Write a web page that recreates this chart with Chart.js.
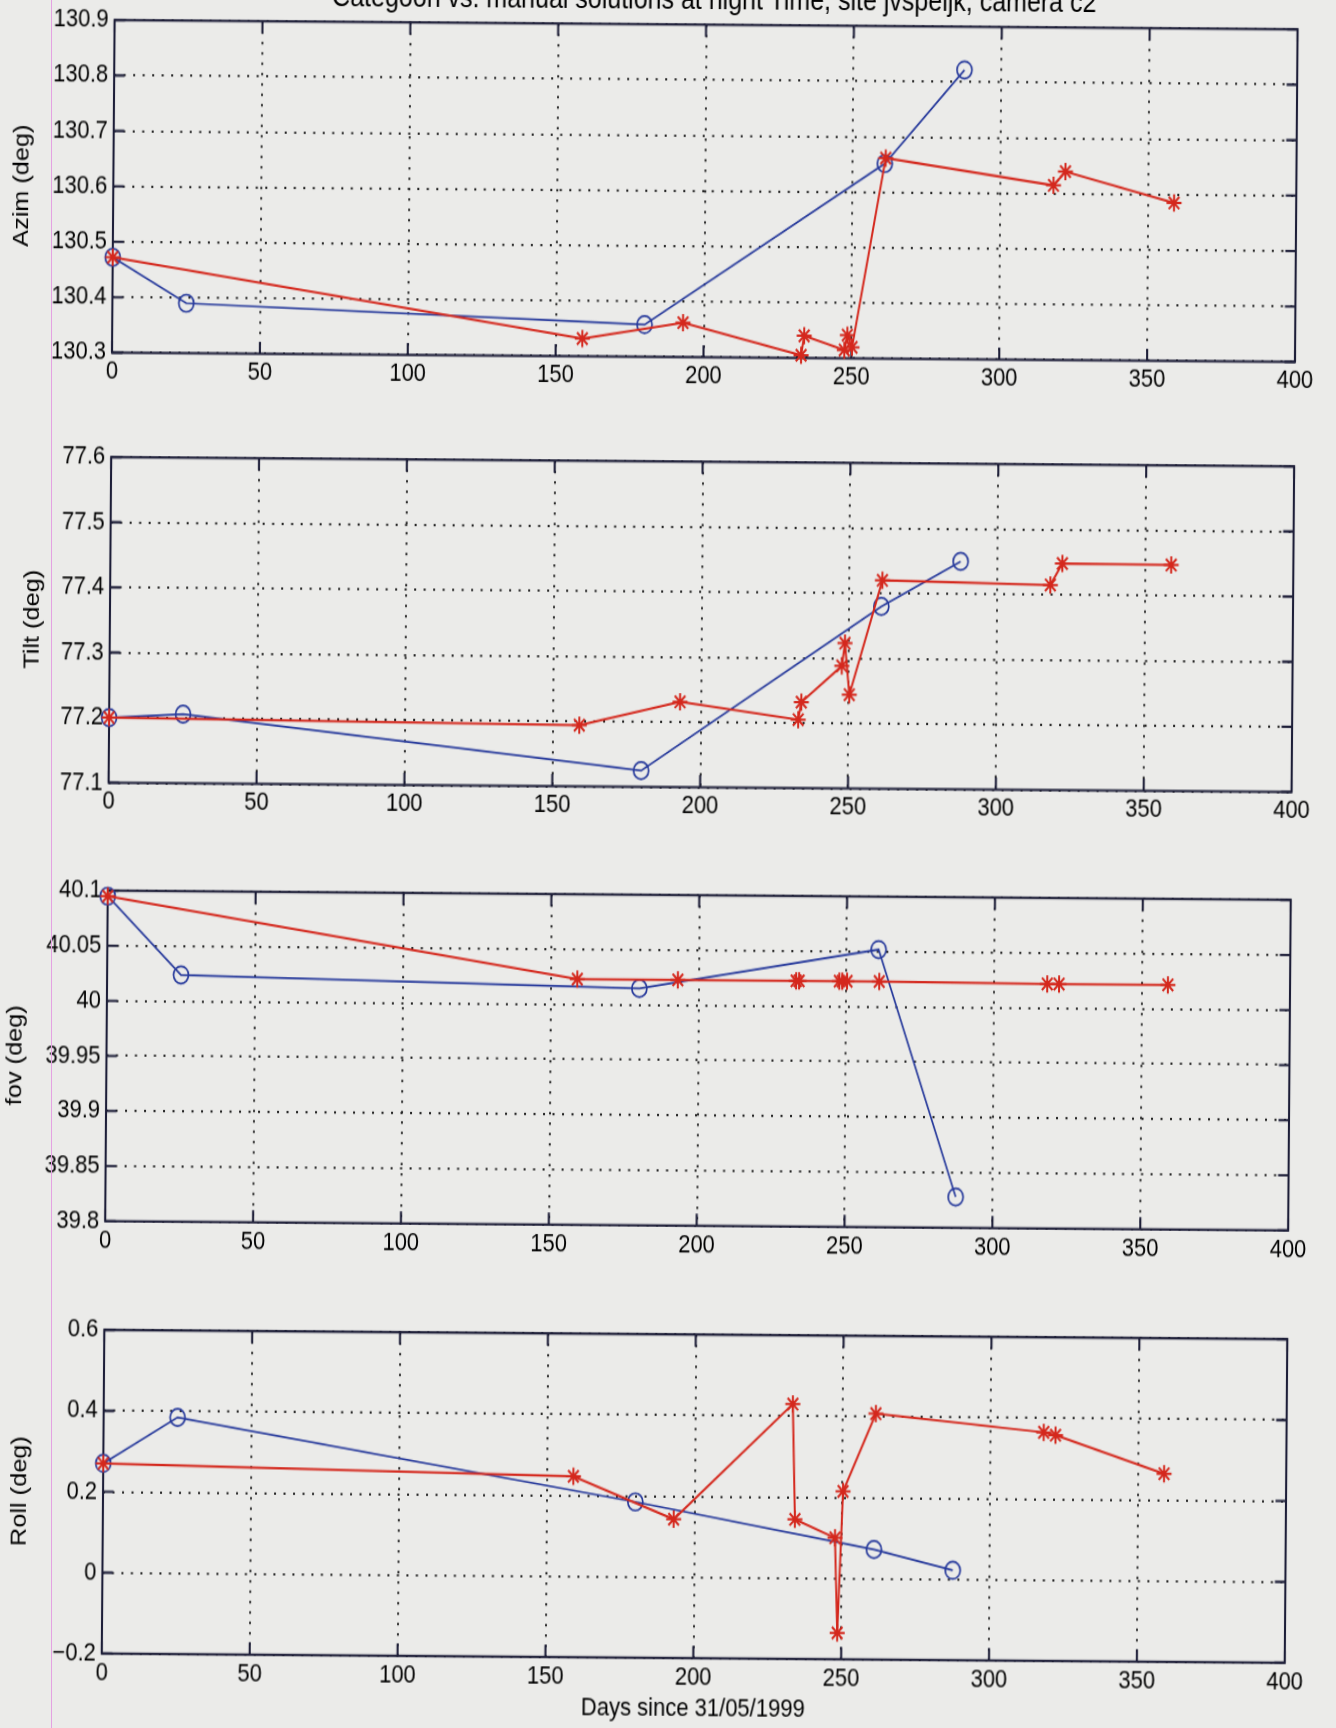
<!DOCTYPE html>
<html>
<head>
<meta charset="utf-8">
<script src="https://cdn.jsdelivr.net/npm/chart.js@4.4.1/dist/chart.umd.min.js"></script>
<style>
  html, body { margin: 0; padding: 0; background: #ebebe9; }
  body { width: 1336px; height: 1728px; overflow: hidden; position: relative; }
  /* the scanned page is a little rotated and stretched upwards */
  #page { position: absolute; left: 0; top: 0; width: 1336px; height: 1728px;
          transform: rotate(0.45deg); transform-origin: 668px 864px; }
  #stretch { position: absolute; left: 0; top: 0; width: 1336px; height: 1502.6px;
             transform: scaleY(1.15); transform-origin: 0 0; }
  .plot { position: absolute; left: 0; width: 1336px; }
  #title { position: absolute; left: 116px; width: 1183px; top: -12.5px; text-align: center;
           font: 25px "Liberation Sans", Arial, sans-serif; line-height: 22px; color: #000; white-space: nowrap; }
  #scanline { position: absolute; left: 51px; top: 0; width: 1px; height: 1728px; background: #e4a2e2; }
</style>
</head>
<body>
<div id="page">
  <div id="stretch">
    <div id="title">Categoon vs. manual solutions at night Time, site jvspeijk, camera c2</div>
    <div class="plot" id="box-azim"><canvas id="azim"></canvas></div>
    <div class="plot" id="box-tilt"><canvas id="tilt"></canvas></div>
    <div class="plot" id="box-fov"><canvas id="fov"></canvas></div>
    <div class="plot" id="box-roll"><canvas id="roll"></canvas></div>
  </div>
</div>
<div id="scanline"></div>
<script>
// blue circles
const circleDays = [0, 25, 180, 260.8, 287.5];
const circleAzim = [130.472, 130.39, 130.358, 130.652, 130.822];
const circleTilt = [77.2, 77.206, 77.125, 77.38, 77.45];
const circleFov = [40.095, 40.024, 40.015, 40.052, 39.828];
const circleRoll = [0.27, 0.385, 0.185, 0.072, 0.022];

// red stars
const starDays = [0, 159, 193, 233, 234, 247.6, 248.6, 250.2, 261.1, 317.9, 321.9, 358.7];
const starAzim = [130.472, 130.332, 130.362, 130.305, 130.34, 130.315, 130.342, 130.32, 130.662, 130.615, 130.64, 130.585];
const starTilt = [77.2, 77.194, 77.231, 77.205, 77.232, 77.288, 77.323, 77.244, 77.42, 77.415, 77.448, 77.447];
const starFov = [40.095, 40.023, 40.023, 40.023, 40.023, 40.023, 40.023, 40.023, 40.023, 40.022, 40.022, 40.022];
const starRoll = [0.27, 0.247, 0.143, 0.43, 0.145, 0.1, -0.135, 0.215, 0.408, 0.365, 0.358, 0.265];

// ticks
const xTicks = [0, 50, 100, 150, 200, 250, 300, 350, 400];
const azimTicks = [130.3, 130.4, 130.5, 130.6, 130.7, 130.8, 130.9];
const tiltTicks = [77.1, 77.2, 77.3, 77.4, 77.5, 77.6];
const fovTicks = [39.8, 39.85, 39.9, 39.95, 40, 40.05, 40.1];
const rollTicks = [-0.2, 0, 0.2, 0.4, 0.6];

const xTitle = "Days since 31/05/1999";

const RED = "#d4281d";
const BLUE = "#26399b";
const AXIS = "#1d1e38";
const INK = "#000";
const PLOT_LEFT = 108;
const PLOT_RIGHT = 1291;
const PAD_TOP = 18;
const TICK_LEN = 10.5;

Chart.defaults.font.family = '"Liberation Sans", Arial, sans-serif';
Chart.defaults.color = INK;

function fmt(v) {
  return String(parseFloat(v.toFixed(3))).replace("-", "\u2212");
}

function points(xs, ys) {
  return xs.map((x, i) => ({ x: x, y: ys[i] }));
}

// box round the axes with ticks pointing inwards, like matlab
const matlabBox = {
  id: "matlabBox",
  beforeDatasetsDraw(chart) {
    const { ctx, chartArea: a, scales: { x, y } } = chart;
    ctx.save();
    ctx.strokeStyle = AXIS;
    ctx.lineWidth = 2.1;
    ctx.beginPath();
    for (const t of x.ticks) {
      const px = x.getPixelForValue(t.value);
      ctx.moveTo(px, a.bottom);
      ctx.lineTo(px, a.bottom - TICK_LEN);
      ctx.moveTo(px, a.top);
      ctx.lineTo(px, a.top + TICK_LEN);
    }
    for (const t of y.ticks) {
      const py = y.getPixelForValue(t.value);
      ctx.moveTo(a.left, py);
      ctx.lineTo(a.left + TICK_LEN, py);
      ctx.moveTo(a.right, py);
      ctx.lineTo(a.right - TICK_LEN, py);
    }
    ctx.stroke();
    ctx.strokeRect(a.left, a.top, a.right - a.left, a.bottom - a.top);
    ctx.restore();
  }
};

// positions in the unstretched page
const panels = [
  { id: "azim", label: "Azim (deg)", circles: circleAzim, stars: starAzim, ticks: azimTicks, top: 20, bottom: 310.4, xh: 40, titlePad: 3.8 },
  { id: "tilt", label: "Tilt (deg)", circles: circleTilt, stars: starTilt, ticks: tiltTicks, top: 400, bottom: 683.5, xh: 40, titlePad: 17.8 },
  { id: "fov", label: "fov (deg)", circles: circleFov, stars: starFov, ticks: fovTicks, top: 777.4, bottom: 1065.2, xh: 40, titlePad: 3.8 },
  { id: "roll", label: "Roll (deg)", circles: circleRoll, stars: starRoll, ticks: rollTicks, top: 1159.1, bottom: 1440.9, xh: 61.7, titlePad: 11.8, xTitle: xTitle }
];

function renderPanel(p) {
  const box = document.getElementById("box-" + p.id);
  box.style.top = (p.top - PAD_TOP) + "px";
  box.style.height = (PAD_TOP + (p.bottom - p.top) + p.xh) + "px";

  const config = {
    type: "line",
    data: {
      datasets: [
        {
          data: points(starDays, p.stars),
          borderColor: RED,
          borderWidth: 2,
          pointStyle: "star",
          pointRadius: 7.5,
          pointBorderWidth: 2,
          pointBorderColor: RED,
          pointBackgroundColor: "transparent",
          tension: 0,
          clip: false
        },
        {
          data: points(circleDays, p.circles),
          borderColor: BLUE,
          borderWidth: 1.7,
          pointStyle: "circle",
          pointRadius: 7.5,
          pointBorderWidth: 1.7,
          pointBorderColor: BLUE,
          pointBackgroundColor: "transparent",
          tension: 0,
          clip: false
        }
      ]
    },
    options: {
      responsive: true,
      maintainAspectRatio: false,
      animation: false,
      events: [],
      layout: { padding: { left: 0, right: 1336 - PLOT_RIGHT, top: PAD_TOP, bottom: 0 } },
      plugins: { legend: { display: false }, tooltip: { enabled: false } },
      scales: {
        x: {
          type: "linear",
          min: 0,
          max: 400,
          afterBuildTicks: (s) => { s.ticks = xTicks.map((v) => ({ value: v })); },
          afterFit: (s) => { s.height = p.xh; },
          grid: { color: "#262626", lineWidth: 2, drawTicks: false },
          border: { display: false, dash: [2, 7] },
          ticks: { autoSkip: false, maxRotation: 0, padding: 3.6, font: { size: 22 }, color: INK, callback: (v) => fmt(v) },
          title: {
            display: !!p.xTitle,
            text: p.xTitle || "",
            font: { size: 22 },
            color: INK,
            padding: { top: 0, bottom: 4.2 }
          }
        },
        y: {
          type: "linear",
          min: p.ticks[0],
          max: p.ticks[p.ticks.length - 1],
          afterBuildTicks: (s) => { s.ticks = p.ticks.map((v) => ({ value: v })); },
          afterFit: (s) => { s.width = PLOT_LEFT; },
          grid: { color: "#262626", lineWidth: 2, drawTicks: false },
          border: { display: false, dash: [2, 7.5] },
          ticks: { autoSkip: false, padding: 6, font: { size: 22 }, color: INK, callback: (v) => fmt(v) },
          title: {
            display: true,
            text: p.label,
            font: { size: 22 },
            color: INK,
            padding: { top: p.titlePad, bottom: 0 }
          }
        }
      }
    },
    plugins: [matlabBox]
  };

  return new Chart(document.getElementById(p.id), config);
}

for (const p of panels) {
  renderPanel(p);
}
</script>
</body>
</html>
